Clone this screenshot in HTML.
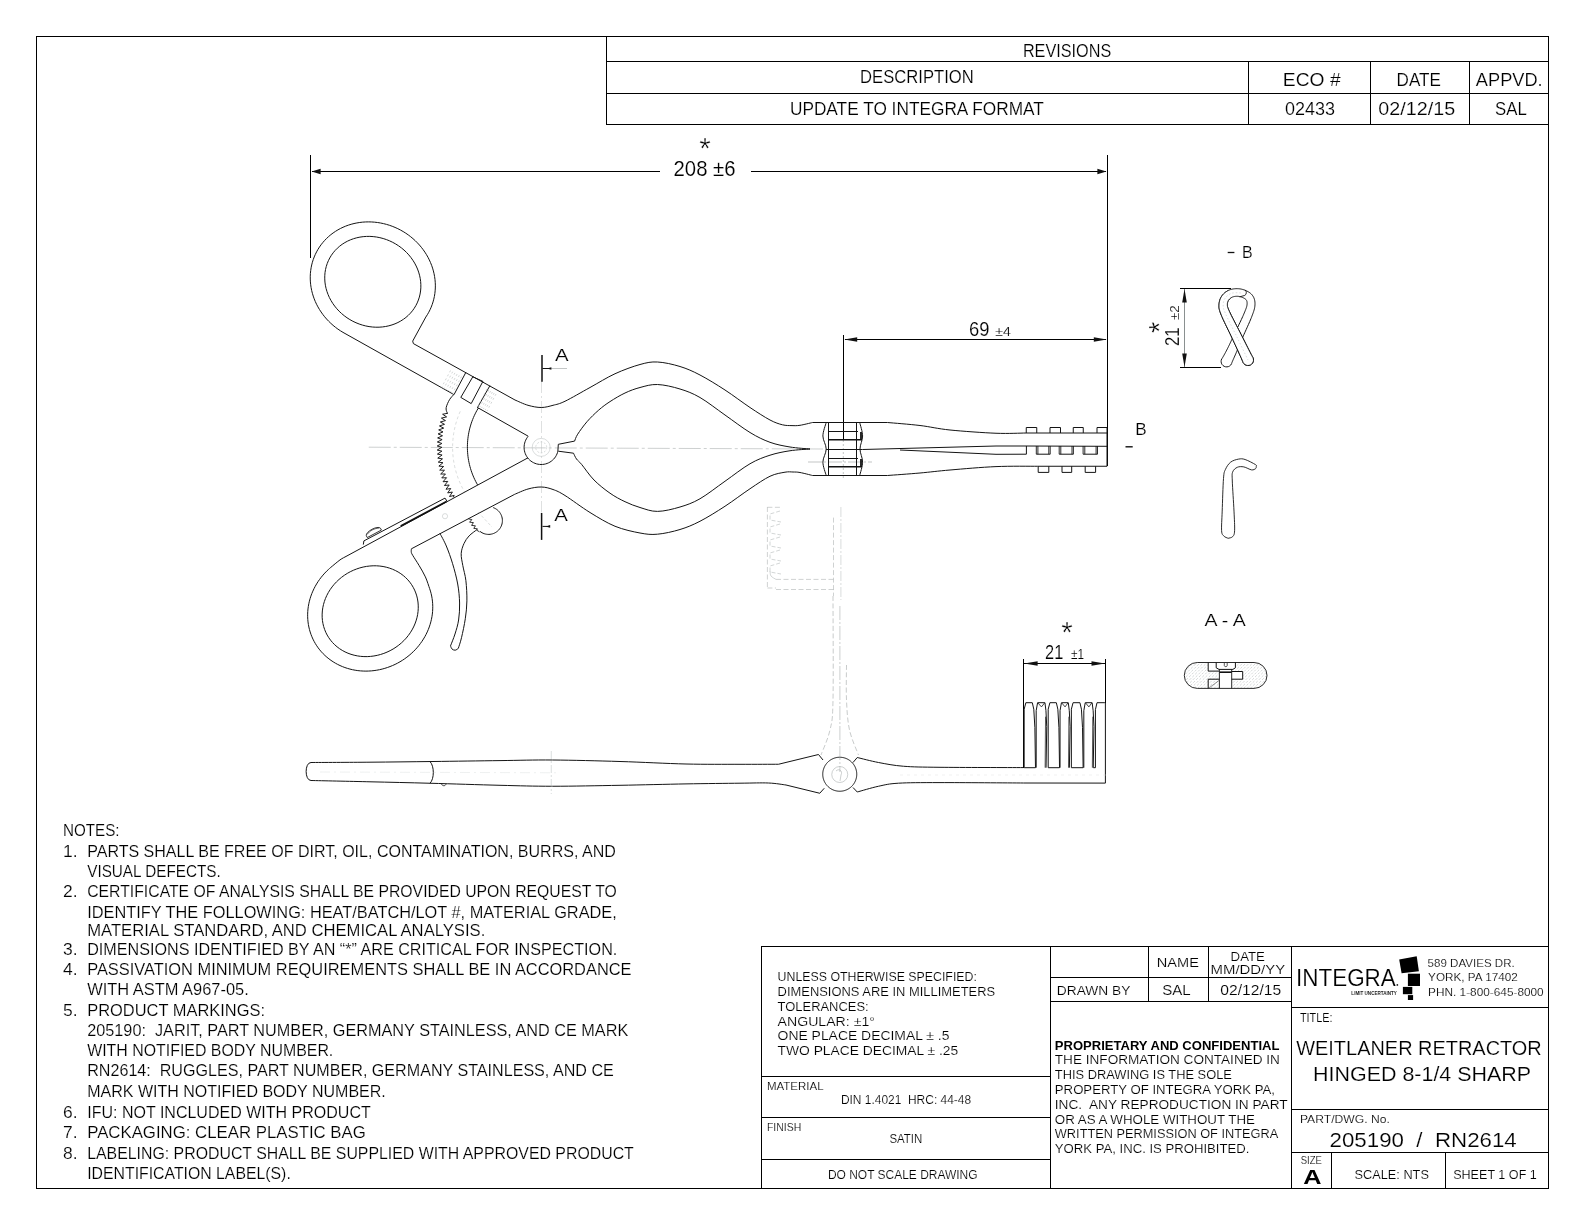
<!DOCTYPE html><html><head><meta charset="utf-8"><title>Drawing</title><style>html,body{margin:0;padding:0;background:#fff}svg{display:block;will-change:transform}text{font-family:"Liberation Sans",sans-serif}</style></head><body>
<svg width="1584" height="1224" viewBox="0 0 1584 1224">
<rect width="1584" height="1224" fill="#fff"/>
<rect x="36.5" y="36.5" width="1512" height="1152" fill="none" stroke="#000" stroke-width="1" shape-rendering="crispEdges"/>
<line x1="606.5" y1="36.5" x2="606.5" y2="125" stroke="#000" stroke-width="1" shape-rendering="crispEdges"/>
<line x1="606" y1="124.5" x2="1548.5" y2="124.5" stroke="#000" stroke-width="1" shape-rendering="crispEdges"/>
<line x1="606.5" y1="61.5" x2="1548.5" y2="61.5" stroke="#000" stroke-width="1" shape-rendering="crispEdges"/>
<line x1="606.5" y1="93.5" x2="1548.5" y2="93.5" stroke="#000" stroke-width="1" shape-rendering="crispEdges"/>
<line x1="1248.5" y1="61.5" x2="1248.5" y2="124.5" stroke="#000" stroke-width="1" shape-rendering="crispEdges"/>
<line x1="1370.5" y1="61.5" x2="1370.5" y2="124.5" stroke="#000" stroke-width="1" shape-rendering="crispEdges"/>
<line x1="1469.5" y1="61.5" x2="1469.5" y2="124.5" stroke="#000" stroke-width="1" shape-rendering="crispEdges"/>
<text x="1022.9" y="57.4" font-size="18" textLength="88.4" lengthAdjust="spacingAndGlyphs" fill="#000" stroke="#fff" stroke-width="0.16" >REVISIONS</text>
<text x="860.11" y="83.3" font-size="17.8" textLength="113.58" lengthAdjust="spacingAndGlyphs" fill="#000" stroke="#fff" stroke-width="0.16" >DESCRIPTION</text>
<text x="789.92" y="115.4" font-size="17.5" textLength="253.95" lengthAdjust="spacingAndGlyphs" fill="#000" stroke="#fff" stroke-width="0.16" >UPDATE TO INTEGRA FORMAT</text>
<text x="1282.85" y="86.25" font-size="18" textLength="57.8" lengthAdjust="spacingAndGlyphs" fill="#000" stroke="#fff" stroke-width="0.16" >ECO #</text>
<text x="1396.6" y="86.25" font-size="18" textLength="44.3" lengthAdjust="spacingAndGlyphs" fill="#000" stroke="#fff" stroke-width="0.16" >DATE</text>
<text x="1475.85" y="86.25" font-size="18" textLength="66.8" lengthAdjust="spacingAndGlyphs" fill="#000" stroke="#fff" stroke-width="0.16" >APPVD.</text>
<text x="1285.12" y="115" font-size="17.5" textLength="50" lengthAdjust="spacingAndGlyphs" fill="#000" stroke="#fff" stroke-width="0.16" >02433</text>
<text x="1378.38" y="115" font-size="17.5" textLength="76.75" lengthAdjust="spacingAndGlyphs" fill="#000" stroke="#fff" stroke-width="0.16" >02/12/15</text>
<text x="1495.12" y="115" font-size="17.5" textLength="31.75" lengthAdjust="spacingAndGlyphs" fill="#000" stroke="#fff" stroke-width="0.16" >SAL</text>
<line x1="761" y1="946.5" x2="1548.5" y2="946.5" stroke="#000" stroke-width="1" shape-rendering="crispEdges"/>
<line x1="761.5" y1="946.5" x2="761.5" y2="1188.5" stroke="#000" stroke-width="1" shape-rendering="crispEdges"/>
<line x1="1050.5" y1="946.5" x2="1050.5" y2="1188.5" stroke="#000" stroke-width="1" shape-rendering="crispEdges"/>
<line x1="1291.5" y1="946.5" x2="1291.5" y2="1188.5" stroke="#000" stroke-width="1" shape-rendering="crispEdges"/>
<line x1="761.5" y1="1076.5" x2="1050.5" y2="1076.5" stroke="#000" stroke-width="1" shape-rendering="crispEdges"/>
<line x1="761.5" y1="1117.5" x2="1050.5" y2="1117.5" stroke="#000" stroke-width="1" shape-rendering="crispEdges"/>
<line x1="761.5" y1="1159.5" x2="1050.5" y2="1159.5" stroke="#000" stroke-width="1" shape-rendering="crispEdges"/>
<line x1="1050.5" y1="977.5" x2="1291.5" y2="977.5" stroke="#000" stroke-width="1" shape-rendering="crispEdges"/>
<line x1="1050.5" y1="1001.5" x2="1291.5" y2="1001.5" stroke="#000" stroke-width="1" shape-rendering="crispEdges"/>
<line x1="1148.5" y1="946.5" x2="1148.5" y2="1001.5" stroke="#000" stroke-width="1" shape-rendering="crispEdges"/>
<line x1="1208.5" y1="946.5" x2="1208.5" y2="1001.5" stroke="#000" stroke-width="1" shape-rendering="crispEdges"/>
<line x1="1291.5" y1="1007.5" x2="1548.5" y2="1007.5" stroke="#000" stroke-width="1" shape-rendering="crispEdges"/>
<line x1="1291.5" y1="1109.5" x2="1548.5" y2="1109.5" stroke="#000" stroke-width="1" shape-rendering="crispEdges"/>
<line x1="1291.5" y1="1152.5" x2="1548.5" y2="1152.5" stroke="#000" stroke-width="1" shape-rendering="crispEdges"/>
<line x1="1331.5" y1="1152.5" x2="1331.5" y2="1188.5" stroke="#000" stroke-width="1" shape-rendering="crispEdges"/>
<line x1="1445.5" y1="1152.5" x2="1445.5" y2="1188.5" stroke="#000" stroke-width="1" shape-rendering="crispEdges"/>
<text x="777.58" y="981" font-size="13.4" textLength="199.34" lengthAdjust="spacingAndGlyphs" fill="#000" stroke="#fff" stroke-width="0.16" >UNLESS OTHERWISE SPECIFIED:</text>
<text x="777.58" y="995.75" font-size="13.4" textLength="217.59" lengthAdjust="spacingAndGlyphs" fill="#000" stroke="#fff" stroke-width="0.16" >DIMENSIONS ARE IN MILLIMETERS</text>
<text x="777.58" y="1010.75" font-size="13.4" textLength="91.09" lengthAdjust="spacingAndGlyphs" fill="#000" stroke="#fff" stroke-width="0.16" >TOLERANCES:</text>
<text x="777.58" y="1025.75" font-size="13.4" textLength="97.34" lengthAdjust="spacingAndGlyphs" fill="#000" stroke="#fff" stroke-width="0.16" >ANGULAR: ±1°</text>
<text x="777.58" y="1040" font-size="13.4" textLength="171.84" lengthAdjust="spacingAndGlyphs" fill="#000" stroke="#fff" stroke-width="0.16" >ONE PLACE DECIMAL ± .5</text>
<text x="777.58" y="1054.75" font-size="13.4" textLength="180.59" lengthAdjust="spacingAndGlyphs" fill="#000" stroke="#fff" stroke-width="0.16" >TWO PLACE DECIMAL ± .25</text>
<text x="766.93" y="1090" font-size="11.3" textLength="56.63" lengthAdjust="spacingAndGlyphs" fill="#000" stroke="#fff" stroke-width="0.16" >MATERIAL</text>
<text x="840.9" y="1104.25" font-size="12" textLength="130.2" lengthAdjust="spacingAndGlyphs" fill="#000" stroke="#fff" stroke-width="0.16" xml:space="preserve">DIN 1.4021  HRC: 44-48</text>
<text x="766.93" y="1130.75" font-size="11.3" textLength="34.38" lengthAdjust="spacingAndGlyphs" fill="#000" stroke="#fff" stroke-width="0.16" >FINISH</text>
<text x="889.4" y="1143" font-size="12" textLength="32.95" lengthAdjust="spacingAndGlyphs" fill="#000" stroke="#fff" stroke-width="0.16" >SATIN</text>
<text x="827.9" y="1179" font-size="12" textLength="149.7" lengthAdjust="spacingAndGlyphs" fill="#000" stroke="#fff" stroke-width="0.16" >DO NOT SCALE DRAWING</text>
<text x="1056.83" y="994.75" font-size="13.4" textLength="73.59" lengthAdjust="spacingAndGlyphs" fill="#000" stroke="#fff" stroke-width="0.16" >DRAWN BY</text>
<text x="1156.83" y="967" font-size="13.4" textLength="42.09" lengthAdjust="spacingAndGlyphs" fill="#000" stroke="#fff" stroke-width="0.16" >NAME</text>
<text x="1230.58" y="960.75" font-size="13.4" textLength="34.34" lengthAdjust="spacingAndGlyphs" fill="#000" stroke="#fff" stroke-width="0.16" >DATE</text>
<text x="1210.58" y="973.75" font-size="13.4" textLength="74.59" lengthAdjust="spacingAndGlyphs" fill="#000" stroke="#fff" stroke-width="0.16" >MM/DD/YY</text>
<text x="1162.28" y="994.75" font-size="14.4" textLength="28.44" lengthAdjust="spacingAndGlyphs" fill="#000" stroke="#fff" stroke-width="0.16" >SAL</text>
<text x="1220.28" y="994.75" font-size="14.4" textLength="60.94" lengthAdjust="spacingAndGlyphs" fill="#000" stroke="#fff" stroke-width="0.16" >02/12/15</text>
<text x="1054.85" y="1049.5" font-size="13" font-weight="bold" textLength="224.55" lengthAdjust="spacingAndGlyphs" fill="#000" >PROPRIETARY AND CONFIDENTIAL</text>
<text x="1054.83" y="1063.75" font-size="13.4" textLength="225.09" lengthAdjust="spacingAndGlyphs" fill="#000" stroke="#fff" stroke-width="0.16" xml:space="preserve">THE INFORMATION CONTAINED IN</text>
<text x="1054.83" y="1079.25" font-size="13.4" textLength="177.09" lengthAdjust="spacingAndGlyphs" fill="#000" stroke="#fff" stroke-width="0.16" xml:space="preserve">THIS DRAWING IS THE SOLE</text>
<text x="1054.83" y="1093.75" font-size="13.4" textLength="220.09" lengthAdjust="spacingAndGlyphs" fill="#000" stroke="#fff" stroke-width="0.16" xml:space="preserve">PROPERTY OF INTEGRA YORK PA,</text>
<text x="1054.83" y="1109" font-size="13.4" textLength="232.84" lengthAdjust="spacingAndGlyphs" fill="#000" stroke="#fff" stroke-width="0.16" xml:space="preserve">INC.  ANY REPRODUCTION IN PART</text>
<text x="1054.83" y="1124" font-size="13.4" textLength="200.09" lengthAdjust="spacingAndGlyphs" fill="#000" stroke="#fff" stroke-width="0.16" xml:space="preserve">OR AS A WHOLE WITHOUT THE</text>
<text x="1054.83" y="1138" font-size="13.4" textLength="223.34" lengthAdjust="spacingAndGlyphs" fill="#000" stroke="#fff" stroke-width="0.16" xml:space="preserve">WRITTEN PERMISSION OF INTEGRA</text>
<text x="1054.83" y="1152.75" font-size="13.4" textLength="194.59" lengthAdjust="spacingAndGlyphs" fill="#000" stroke="#fff" stroke-width="0.16" xml:space="preserve">YORK PA, INC. IS PROHIBITED.</text>
<text x="1296.03" y="985.7" font-size="23.4" textLength="99.74" lengthAdjust="spacingAndGlyphs" fill="#000" stroke="#fff" stroke-width="0.16" >INTEGRA</text>
<rect x="1396.6" y="984.2" width="1.5" height="1.5" fill="#000"/>
<polygon points="1399.2,959.4 1416.7,956.2 1418.9,971.3 1401.6,973.2" fill="#000"/>
<rect x="1407.9" y="973.7" width="12.1" height="12.3" fill="#000"/>
<rect x="1402.9" y="986.9" width="9.4" height="7.3" fill="#000"/>
<rect x="1407.9" y="995.1" width="5.2" height="4.9" fill="#000"/>
<text x="1351.37" y="994.7" font-size="4.6" font-weight="bold" textLength="45.56" lengthAdjust="spacingAndGlyphs" fill="#222" >LIMIT UNCERTAINTY</text>
<text x="1427.61" y="966.7" font-size="11.8" textLength="87.08" lengthAdjust="spacingAndGlyphs" fill="#000" stroke="#fff" stroke-width="0.16" >589 DAVIES DR.</text>
<text x="1428.11" y="981.1" font-size="11.8" textLength="89.78" lengthAdjust="spacingAndGlyphs" fill="#000" stroke="#fff" stroke-width="0.16" >YORK, PA 17402</text>
<text x="1428.11" y="995.6" font-size="11.8" textLength="115.58" lengthAdjust="spacingAndGlyphs" fill="#000" stroke="#fff" stroke-width="0.16" >PHN. 1-800-645-8000</text>
<text x="1299.88" y="1021.5" font-size="12.3" textLength="32.73" lengthAdjust="spacingAndGlyphs" fill="#000" stroke="#fff" stroke-width="0.16" >TITLE:</text>
<text x="1296.22" y="1054.9" font-size="19.6" textLength="245.56" lengthAdjust="spacingAndGlyphs" fill="#000" stroke="#fff" stroke-width="0.16" >WEITLANER RETRACTOR</text>
<text x="1313.02" y="1080.6" font-size="19.6" textLength="218.16" lengthAdjust="spacingAndGlyphs" fill="#000" stroke="#fff" stroke-width="0.16" >HINGED 8-1/4 SHARP</text>
<text x="1299.91" y="1123" font-size="11.7" textLength="89.92" lengthAdjust="spacingAndGlyphs" fill="#000" stroke="#fff" stroke-width="0.16" >PART/DWG. No.</text>
<text x="1329.52" y="1147" font-size="19.6" textLength="187.26" lengthAdjust="spacingAndGlyphs" fill="#000" stroke="#fff" stroke-width="0.16" xml:space="preserve">205190  /  RN2614</text>
<text x="1300.7" y="1163.75" font-size="11" textLength="21.1" lengthAdjust="spacingAndGlyphs" fill="#000" stroke="#fff" stroke-width="0.16" >SIZE</text>
<text x="1303.25" y="1183.75" font-size="20" font-weight="bold" textLength="18.25" lengthAdjust="spacingAndGlyphs" fill="#000" >A</text>
<text x="1354.6" y="1178.75" font-size="13" textLength="74.3" lengthAdjust="spacingAndGlyphs" fill="#000" stroke="#fff" stroke-width="0.16" >SCALE: NTS</text>
<text x="1453.15" y="1178.9" font-size="13" textLength="83.7" lengthAdjust="spacingAndGlyphs" fill="#000" stroke="#fff" stroke-width="0.16" >SHEET 1 OF 1</text>
<text x="62.96" y="835.75" font-size="15.8" textLength="56.58" lengthAdjust="spacingAndGlyphs" fill="#000" stroke="#fff" stroke-width="0.16" >NOTES:</text>
<text x="62.96" y="856.75" font-size="15.8" textLength="14.58" lengthAdjust="spacingAndGlyphs" fill="#000" stroke="#fff" stroke-width="0.16" >1.</text>
<text x="87.21" y="856.75" font-size="15.8" textLength="528.58" lengthAdjust="spacingAndGlyphs" fill="#000" stroke="#fff" stroke-width="0.16" xml:space="preserve">PARTS SHALL BE FREE OF DIRT, OIL, CONTAMINATION, BURRS, AND</text>
<text x="87.21" y="877" font-size="15.8" textLength="133.58" lengthAdjust="spacingAndGlyphs" fill="#000" stroke="#fff" stroke-width="0.16" xml:space="preserve">VISUAL DEFECTS.</text>
<text x="62.96" y="896.75" font-size="15.8" textLength="14.58" lengthAdjust="spacingAndGlyphs" fill="#000" stroke="#fff" stroke-width="0.16" >2.</text>
<text x="87.21" y="896.75" font-size="15.8" textLength="529.58" lengthAdjust="spacingAndGlyphs" fill="#000" stroke="#fff" stroke-width="0.16" xml:space="preserve">CERTIFICATE OF ANALYSIS SHALL BE PROVIDED UPON REQUEST TO</text>
<text x="87.21" y="917.5" font-size="15.8" textLength="529.58" lengthAdjust="spacingAndGlyphs" fill="#000" stroke="#fff" stroke-width="0.16" xml:space="preserve">IDENTIFY THE FOLLOWING: HEAT/BATCH/LOT #, MATERIAL GRADE,</text>
<text x="87.21" y="935.75" font-size="15.8" textLength="398.08" lengthAdjust="spacingAndGlyphs" fill="#000" stroke="#fff" stroke-width="0.16" xml:space="preserve">MATERIAL STANDARD, AND CHEMICAL ANALYSIS.</text>
<text x="62.96" y="955" font-size="15.8" textLength="14.58" lengthAdjust="spacingAndGlyphs" fill="#000" stroke="#fff" stroke-width="0.16" >3.</text>
<text x="87.21" y="955" font-size="15.8" textLength="530.08" lengthAdjust="spacingAndGlyphs" fill="#000" stroke="#fff" stroke-width="0.16" xml:space="preserve">DIMENSIONS IDENTIFIED BY AN “*” ARE CRITICAL FOR INSPECTION.</text>
<text x="62.96" y="974.5" font-size="15.8" textLength="14.58" lengthAdjust="spacingAndGlyphs" fill="#000" stroke="#fff" stroke-width="0.16" >4.</text>
<text x="87.21" y="974.5" font-size="15.8" textLength="544.33" lengthAdjust="spacingAndGlyphs" fill="#000" stroke="#fff" stroke-width="0.16" xml:space="preserve">PASSIVATION MINIMUM REQUIREMENTS SHALL BE IN ACCORDANCE</text>
<text x="87.21" y="994.5" font-size="15.8" textLength="161.58" lengthAdjust="spacingAndGlyphs" fill="#000" stroke="#fff" stroke-width="0.16" xml:space="preserve">WITH ASTM A967-05.</text>
<text x="62.96" y="1015.5" font-size="15.8" textLength="14.58" lengthAdjust="spacingAndGlyphs" fill="#000" stroke="#fff" stroke-width="0.16" >5.</text>
<text x="87.21" y="1015.5" font-size="15.8" textLength="177.83" lengthAdjust="spacingAndGlyphs" fill="#000" stroke="#fff" stroke-width="0.16" xml:space="preserve">PRODUCT MARKINGS:</text>
<text x="87.21" y="1036" font-size="15.8" textLength="541.08" lengthAdjust="spacingAndGlyphs" fill="#000" stroke="#fff" stroke-width="0.16" xml:space="preserve">205190:  JARIT, PART NUMBER, GERMANY STAINLESS, AND CE MARK</text>
<text x="87.21" y="1056.25" font-size="15.8" textLength="246.08" lengthAdjust="spacingAndGlyphs" fill="#000" stroke="#fff" stroke-width="0.16" xml:space="preserve">WITH NOTIFIED BODY NUMBER.</text>
<text x="87.21" y="1076.25" font-size="15.8" textLength="526.58" lengthAdjust="spacingAndGlyphs" fill="#000" stroke="#fff" stroke-width="0.16" xml:space="preserve">RN2614:  RUGGLES, PART NUMBER, GERMANY STAINLESS, AND CE</text>
<text x="87.21" y="1096.5" font-size="15.8" textLength="298.58" lengthAdjust="spacingAndGlyphs" fill="#000" stroke="#fff" stroke-width="0.16" xml:space="preserve">MARK WITH NOTIFIED BODY NUMBER.</text>
<text x="62.96" y="1117.5" font-size="15.8" textLength="14.58" lengthAdjust="spacingAndGlyphs" fill="#000" stroke="#fff" stroke-width="0.16" >6.</text>
<text x="87.21" y="1117.5" font-size="15.8" textLength="283.58" lengthAdjust="spacingAndGlyphs" fill="#000" stroke="#fff" stroke-width="0.16" xml:space="preserve">IFU: NOT INCLUDED WITH PRODUCT</text>
<text x="62.96" y="1137.5" font-size="15.8" textLength="14.58" lengthAdjust="spacingAndGlyphs" fill="#000" stroke="#fff" stroke-width="0.16" >7.</text>
<text x="87.21" y="1137.5" font-size="15.8" textLength="278.58" lengthAdjust="spacingAndGlyphs" fill="#000" stroke="#fff" stroke-width="0.16" xml:space="preserve">PACKAGING: CLEAR PLASTIC BAG</text>
<text x="62.96" y="1158.5" font-size="15.8" textLength="14.58" lengthAdjust="spacingAndGlyphs" fill="#000" stroke="#fff" stroke-width="0.16" >8.</text>
<text x="87.21" y="1158.5" font-size="15.8" textLength="546.58" lengthAdjust="spacingAndGlyphs" fill="#000" stroke="#fff" stroke-width="0.16" xml:space="preserve">LABELING: PRODUCT SHALL BE SUPPLIED WITH APPROVED PRODUCT</text>
<text x="87.21" y="1178.75" font-size="15.8" textLength="203.58" lengthAdjust="spacingAndGlyphs" fill="#000" stroke="#fff" stroke-width="0.16" xml:space="preserve">IDENTIFICATION LABEL(S).</text>
<line x1="310.5" y1="155" x2="310.5" y2="257.5" stroke="#000" stroke-width="1" shape-rendering="crispEdges"/>
<line x1="1107.5" y1="155" x2="1107.5" y2="466.25" stroke="#000" stroke-width="1" shape-rendering="crispEdges"/>
<line x1="312" y1="171.5" x2="659.5" y2="171.5" stroke="#000" stroke-width="1" shape-rendering="crispEdges"/>
<line x1="751" y1="171.5" x2="1106" y2="171.5" stroke="#000" stroke-width="1" shape-rendering="crispEdges"/>
<polygon points="311.6,171.5 320.6,174.2 320.6,168.8" fill="#111"/>
<polygon points="1106.4,171.5 1097.4,168.8 1097.4,174.2" fill="#111"/>
<text x="673.54" y="176.1" font-size="21.2" textLength="62.02" lengthAdjust="spacingAndGlyphs" fill="#000" stroke="#fff" stroke-width="0.16" >208 ±6</text>
<text x="699.16" y="158.14" font-size="29.5" fill="#000" stroke="#fff" stroke-width="0.35">*</text>
<line x1="843.5" y1="335" x2="843.5" y2="440" stroke="#000" stroke-width="1" shape-rendering="crispEdges"/>
<line x1="843.3" y1="440" x2="843.3" y2="479" stroke="#9aa0a0" stroke-width="0.6" stroke-dasharray="2 2"/>
<line x1="845" y1="339.5" x2="1106" y2="339.5" stroke="#000" stroke-width="1" shape-rendering="crispEdges"/>
<polygon points="844.2,339.5 857.2,341.8 857.2,337.2" fill="#111"/>
<polygon points="1106.8,339.5 1093.8,337.2 1093.8,341.8" fill="#111"/>
<text x="968.92" y="336" font-size="19.5" textLength="20.45" lengthAdjust="spacingAndGlyphs" fill="#000" stroke="#fff" stroke-width="0.16" >69</text>
<text x="995.22" y="335.8" font-size="13.7" textLength="15.47" lengthAdjust="spacingAndGlyphs" fill="#000" stroke="#fff" stroke-width="0.16" >±4</text>
<line x1="368.75" y1="447.2" x2="823" y2="449" stroke="#9aa0a0" stroke-width="0.5" stroke-dasharray="22 3 3 3"/>
<line x1="541.5" y1="381" x2="541.5" y2="512.5" stroke="#b5baba" stroke-width="0.45" stroke-dasharray="12 3 2 3"/>
<line x1="808" y1="462" x2="872" y2="462" stroke="#9aa0a0" stroke-width="0.6" stroke-dasharray="14 2 2 2"/>
<path d="M415.83 305.65 L414.23 308.29 L412.43 310.8 L410.44 313.17 L408.26 315.38 L405.91 317.44 L403.4 319.31 L400.73 321.01 L397.94 322.51 L395.02 323.82 L391.99 324.92 L388.87 325.81 L385.67 326.49 L382.41 326.95 L379.1 327.19 L375.76 327.21 L372.4 327 L369.05 326.58 L365.72 325.94 L362.42 325.08 L359.17 324.01 L355.99 322.74 L352.89 321.27 L349.88 319.6 L346.99 317.75 L344.22 315.73 L341.6 313.54 L339.12 311.2 L336.81 308.71 L334.68 306.09 L332.73 303.35 L330.97 300.51 L329.42 297.58 L328.08 294.57 L326.96 291.5 L326.06 288.38 L325.39 285.23 L324.95 282.06 L324.75 278.89 L324.77 275.73 L325.03 272.61 L325.53 269.53 L326.25 266.51 L327.21 263.56 L328.38 260.7 L329.77 257.95 L331.37 255.31 L333.17 252.8 L335.16 250.43 L337.34 248.22 L339.69 246.16 L342.2 244.29 L344.87 242.59 L347.66 241.09 L350.58 239.78 L353.61 238.68 L356.73 237.79 L359.93 237.11 L363.19 236.65 L366.5 236.41 L369.84 236.39 L373.2 236.6 L376.55 237.02 L379.88 237.66 L383.18 238.52 L386.43 239.59 L389.61 240.86 L392.71 242.33 L395.72 244 L398.61 245.85 L401.38 247.87 L404 250.06 L406.48 252.4 L408.79 254.89 L410.92 257.51 L412.87 260.25 L414.63 263.09 L416.18 266.02 L417.52 269.03 L418.64 272.1 L419.54 275.22 L420.21 278.37 L420.65 281.54 L420.85 284.71 L420.83 287.87 L420.57 290.99 L420.07 294.07 L419.35 297.09 L418.39 300.04 L417.22 302.9 L415.83 305.65 Z" fill="none" stroke="#141414" stroke-width="1.0" />
<path d="M425.82 317.04 L427.35 314.69 L428.75 312.26 L430.02 309.76 L431.16 307.2 L432.17 304.58 L433.04 301.91 L433.78 299.19 L434.38 296.44 L434.83 293.65 L435.15 290.83 L435.32 287.99 L435.36 285.14 L435.24 282.28 L434.99 279.42 L434.59 276.57 L434.06 273.72 L433.38 270.9 L432.57 268.1 L431.62 265.33 L430.53 262.6 L429.31 259.91 L427.97 257.27 L426.5 254.69 L424.9 252.17 L423.19 249.72 L421.37 247.34 L419.43 245.04 L417.38 242.83 L415.24 240.7 L412.99 238.66 L410.66 236.73 L408.24 234.9 L405.74 233.17 L403.16 231.56 L400.52 230.05 L397.81 228.67 L395.04 227.41 L392.23 226.27 L389.36 225.26 L386.47 224.38 L383.54 223.63 L380.58 223.01 L377.61 222.53 L374.63 222.18 L371.64 221.96 L368.66 221.89 L365.68 221.95 L362.72 222.14 L359.79 222.48 L356.88 222.94 L354.01 223.54 L351.18 224.28 L348.41 225.14 L345.68 226.14 L343.02 227.26 L340.43 228.51 L337.91 229.87 L335.47 231.36 L333.12 232.96 L330.86 234.67 L328.69 236.49 L326.62 238.42 L324.66 240.44 L322.81 242.55 L321.07 244.76 L319.45 247.05 L317.95 249.42 L316.58 251.86 L315.33 254.37 L314.22 256.95 L313.23 259.58 L312.39 262.26 L311.68 264.98 L311.11 267.75 L310.69 270.54 L310.4 273.37 L310.26 276.21 L310.26 279.06 L310.4 281.92 L310.68 284.78 L311.11 287.63 L311.67 290.47 L312.38 293.29 L313.22 296.09 L314.2 298.85 L315.31 301.57 L316.56 304.25 L317.93 306.87 L319.43 309.44 L321.05 311.95 L322.78 314.39 L324.63 316.75 L326.59 319.03 L328.66 321.23 L330.83 323.34 L333.09 325.35 L335.44 327.27 L337.88 329.08 L340.4 330.78 L342.99 332.37 M425.82 317.04 L412.7 341.1 L413.4 343.6 L515 400 C517.17 400.88 523.62 404.05 528 405.3 C532.38 406.55 537.08 407.5 541.25 407.5 C545.42 407.5 549.04 406.34 553 405.3 C556.96 404.26 558.83 404.22 565 401.25 C571.17 398.28 581.67 392.08 590 387.5 C598.33 382.92 606.67 377.58 615 373.75 C623.33 369.92 632.92 366.46 640 364.5 C647.08 362.54 650.83 361.67 657.5 362 C664.17 362.33 672.92 364.33 680 366.5 C687.08 368.67 692.5 371.08 700 375 C707.5 378.92 716.67 384.58 725 390 C733.33 395.42 742.5 402.5 750 407.5 C757.5 412.5 764.58 417.12 770 420 C775.42 422.88 778.83 423.87 782.5 424.8 C786.17 425.73 789.08 425.52 792 425.6 C794.92 425.68 796.58 425.82 800 425.3 C803.42 424.78 810.42 422.97 812.5 422.5 L887.5 422.5 C892.92 423 909.58 424.25 920 425.5 C930.42 426.75 937.33 428.71 950 430 C962.67 431.29 983.33 432.75 996 433.25 C1008.67 433.75 1021 433.04 1026 433 L1107 433" fill="none" stroke="#141414" stroke-width="1.0" />
<line x1="342.99" y1="332.37" x2="453.6" y2="394.4" stroke="#141414" stroke-width="1.0" />
<line x1="477.5" y1="407.5" x2="528" y2="436.1" stroke="#141414" stroke-width="1.0" />
<line x1="465.8" y1="372.5" x2="454.2" y2="394.3" stroke="#141414" stroke-width="1.0" />
<path d="M472.8 376.8 L482.9 381.4 L471.2 403.6 L460.8 397.4 Z" fill="none" stroke="#141414" stroke-width="1.0" />
<line x1="489.9" y1="385.7" x2="477.5" y2="407.5" stroke="#141414" stroke-width="1.0" />
<line x1="450.5" y1="370.5" x2="441.5" y2="387.5" stroke="#b5baba" stroke-width="0.6" stroke-dasharray="2 2.5"/>
<line x1="452.7" y1="371.7" x2="443.7" y2="388.7" stroke="#b5baba" stroke-width="0.6" stroke-dasharray="2 2.5"/>
<line x1="454.9" y1="372.9" x2="445.9" y2="389.9" stroke="#b5baba" stroke-width="0.6" stroke-dasharray="2 2.5"/>
<line x1="457.1" y1="374.1" x2="448.1" y2="391.1" stroke="#b5baba" stroke-width="0.6" stroke-dasharray="2 2.5"/>
<line x1="459.3" y1="375.3" x2="450.3" y2="392.3" stroke="#b5baba" stroke-width="0.6" stroke-dasharray="2 2.5"/>
<line x1="461.5" y1="376.5" x2="452.5" y2="393.5" stroke="#b5baba" stroke-width="0.6" stroke-dasharray="2 2.5"/>
<line x1="487" y1="389" x2="478" y2="406" stroke="#b5baba" stroke-width="0.6" stroke-dasharray="2 2.5"/>
<line x1="488.8" y1="390" x2="479.8" y2="407" stroke="#b5baba" stroke-width="0.6" stroke-dasharray="2 2.5"/>
<line x1="490.6" y1="391" x2="481.6" y2="408" stroke="#b5baba" stroke-width="0.6" stroke-dasharray="2 2.5"/>
<line x1="492.4" y1="392" x2="483.4" y2="409" stroke="#b5baba" stroke-width="0.6" stroke-dasharray="2 2.5"/>
<line x1="494.2" y1="393" x2="485.2" y2="410" stroke="#b5baba" stroke-width="0.6" stroke-dasharray="2 2.5"/>
<line x1="496" y1="394" x2="487" y2="411" stroke="#b5baba" stroke-width="0.6" stroke-dasharray="2 2.5"/>
<path d="M447.85 413.24 L442.62 414.25 L446.6 416.89 L441.41 418.11 L445.48 420.59 L440.35 422.01 L444.51 424.33 L439.44 425.95 L443.69 428.11 L438.68 429.92 L443.01 431.91 L438.08 433.92 L442.49 435.74 L437.63 437.93 L442.11 439.59 L437.34 441.97 L441.88 443.44 L437.21 446.01 L441.8 447.31 L437.23 450.05 L441.87 451.17 L437.42 454.09 L442.09 455.03 L437.75 458.12 L442.46 458.87 L438.25 462.13 L442.98 462.7 L438.9 466.12 L443.65 466.51 L439.7 470.08 L444.47 470.28 L440.66 474.01 L445.43 474.02 L441.77 477.9 L446.54 477.73 L443.03 481.74 L447.79 481.38 L444.44 485.53 L449.18 484.99 L445.99 489.26 L450.71 488.53 L447.69 492.93 L452.38 492.02 L449.53 496.52 L454.18 495.44" fill="none" stroke="#111" stroke-width="0.95" stroke-linejoin="round"/>
<path d="M454.2 394.1 C453.42 395.03 450.83 397.47 449.5 399.7 C448.17 401.93 446.63 405.4 446.2 407.5 C445.77 409.6 446.62 411.34 446.9 412.3 C447.18 413.26 447.7 413.08 447.85 413.24" fill="none" stroke="#141414" stroke-width="1.0" />
<line x1="454.18" y1="495.44" x2="453.3" y2="497.3" stroke="#141414" stroke-width="1.0" />
<path d="M477.98 408.63 L476.98 410.36 L476.03 412.12 L475.12 413.9 L474.26 415.71 L473.45 417.54 L472.69 419.39 L471.98 421.26 L471.32 423.14 L470.71 425.05 L470.15 426.97 L469.64 428.9 L469.18 430.85 L468.77 432.8 L468.42 434.77 L468.12 436.75 L467.87 438.73 L467.67 440.72 L467.53 442.72 L467.44 444.72 L467.4 446.72 L467.42 448.71 L467.49 450.71 L467.61 452.71 L467.79 454.7 L468.01 456.69 L468.3 458.67 L468.63 460.64 L469.02 462.6 L469.45 464.55 L469.94 466.49 L470.48 468.42 L471.08 470.33 L471.72 472.22 L472.41 474.1 L473.16 475.95 L473.95 477.79 L474.79 479.6 L475.68 481.39 L476.61 483.16 L477.59 484.9" fill="none" stroke="#141414" stroke-width="1.0" />
<line x1="477.5" y1="407.5" x2="478.6" y2="409" stroke="#141414" stroke-width="1.0" />
<path d="M460.26 411.36 L459.43 413.28 L458.65 415.22 L457.92 417.17 L457.23 419.14 L456.59 421.13 L455.99 423.13 L455.44 425.14 L454.94 427.17 L454.49 429.21 L454.08 431.25 L453.73 433.31 L453.42 435.38 L453.16 437.45 L452.95 439.52 L452.79 441.61 L452.68 443.69 L452.61 445.78 L452.6 447.86 L452.64 449.95 L452.72 452.04 L452.86 454.12 L453.04 456.2 L453.27 458.27 L453.55 460.34 L453.88 462.4 L454.26 464.46 L454.68 466.5 L455.16 468.53 L455.68 470.56 L456.25 472.56 L456.87 474.56 L457.53 476.54 L458.24 478.5 L458.99 480.45 L459.8 482.37 L460.64 484.28 L461.53 486.17 L462.47 488.04 L463.45 489.88 L464.47 491.7" fill="none" stroke="#b5baba" stroke-width="0.5" stroke-dasharray="3 2.5"/>
<path d="M528.21 436.28 L527.26 437.5 L526.42 438.81 L525.7 440.18 L525.11 441.62 L524.65 443.1 L524.33 444.62 L524.15 446.16 L524.1 447.71 L524.2 449.26 L524.44 450.79 L524.82 452.3 L525.33 453.76 L525.97 455.18 L526.74 456.52 L527.62 457.8 L528.62 458.99 L529.72 460.08 L530.92 461.07 L532.2 461.94 L533.56 462.7 L534.98 463.33 L536.44 463.83 L537.95 464.19 L539.49 464.41 L541.04 464.5 L542.59 464.44 L544.13 464.25 L545.64 463.91 L547.12 463.44 L548.55 462.84 L549.92 462.11 L551.22 461.26 L552.43 460.29 L553.56 459.22 L554.58 458.05 L555.49 456.8 L556.28 455.46 L556.95 454.06 L557.49 452.61 L557.89 451.11 L558.3 444.3" fill="none" stroke="#141414" stroke-width="1.0" />
<circle cx="541.2" cy="447.4" r="9" fill="none" stroke="#b5baba" stroke-width="0.5"/>
<circle cx="541.2" cy="447.4" r="5.5" fill="none" stroke="#b5baba" stroke-width="0.5" stroke-dasharray="2 1.5"/>
<path d="M558.3 444.3 L574.6 441.1 C575.12 439.95 575.63 437.43 577.7 434.2 C579.77 430.97 583.5 425.72 587 421.7 C590.5 417.68 594.87 413.45 598.7 410.1 C602.53 406.75 605.62 404.45 610 401.6 C614.38 398.75 620 395.35 625 393 C630 390.65 634.58 388.92 640 387.5 C645.42 386.08 650.83 384.25 657.5 384.5 C664.17 384.75 672.92 386.83 680 389 C687.08 391.17 692.5 393.17 700 397.5 C707.5 401.83 716.67 409.17 725 415 C733.33 420.83 742.5 427.95 750 432.5 C757.5 437.05 763.33 439.88 770 442.3 C776.67 444.72 783.33 445.88 790 447 C796.67 448.12 806.67 448.67 810 449" fill="none" stroke="#141414" stroke-width="1.0" />
<path d="M558.3 451.2 L573.5 453.2 C574 454.17 575.15 457.13 576.5 459 C577.85 460.87 578.68 460.9 581.6 464.4 C584.52 467.9 589.27 475.2 594 480 C598.73 484.8 604.83 489.58 610 493.2 C615.17 496.82 620 499.32 625 501.7 C630 504.08 634.58 505.88 640 507.5 C645.42 509.12 650.83 511.48 657.5 511.4 C664.17 511.32 672.92 509.11 680 507 C687.08 504.89 692.5 503.04 700 498.75 C707.5 494.46 716.67 487.08 725 481.25 C733.33 475.42 742.5 468.09 750 463.75 C757.5 459.41 763.33 457.37 770 455.2 C776.67 453.03 783.33 451.78 790 450.75 C796.67 449.72 806.67 449.29 810 449" fill="none" stroke="#141414" stroke-width="1.0" />
<path d="M413.23 587.35 L414.62 590.1 L415.79 592.96 L416.75 595.91 L417.47 598.93 L417.97 602.01 L418.23 605.13 L418.25 608.29 L418.05 611.46 L417.61 614.63 L416.94 617.78 L416.04 620.9 L414.92 623.97 L413.58 626.98 L412.03 629.91 L410.27 632.75 L408.32 635.49 L406.19 638.11 L403.88 640.6 L401.4 642.94 L398.78 645.13 L396.01 647.15 L393.12 649 L390.11 650.67 L387.01 652.14 L383.83 653.41 L380.58 654.48 L377.28 655.34 L373.95 655.98 L370.6 656.4 L367.24 656.61 L363.9 656.59 L360.59 656.35 L357.33 655.89 L354.13 655.21 L351.01 654.32 L347.98 653.22 L345.06 651.91 L342.27 650.41 L339.6 648.71 L337.09 646.84 L334.74 644.78 L332.56 642.57 L330.57 640.2 L328.77 637.69 L327.17 635.05 L325.78 632.3 L324.61 629.44 L323.65 626.49 L322.93 623.47 L322.43 620.39 L322.17 617.27 L322.15 614.11 L322.35 610.94 L322.79 607.77 L323.46 604.62 L324.36 601.5 L325.48 598.43 L326.82 595.42 L328.37 592.49 L330.13 589.65 L332.08 586.91 L334.21 584.29 L336.52 581.8 L339 579.46 L341.62 577.27 L344.39 575.25 L347.28 573.4 L350.29 571.73 L353.39 570.26 L356.57 568.99 L359.82 567.92 L363.12 567.06 L366.45 566.42 L369.8 566 L373.16 565.79 L376.5 565.81 L379.81 566.05 L383.07 566.51 L386.27 567.19 L389.39 568.08 L392.42 569.18 L395.34 570.49 L398.13 571.99 L400.8 573.69 L403.31 575.56 L405.66 577.62 L407.84 579.83 L409.83 582.2 L411.63 584.71 L413.23 587.35 Z" fill="none" stroke="#141414" stroke-width="1.0" />
<path d="M528 457.8 L346 556.45 C345 557.03 342.54 558.07 340 559.9 C337.46 561.73 332.66 565.85 330.78 567.4 C328.9 568.96 329.05 568.92 328.71 569.22 L328.71 569.22 L326.71 571.12 L324.8 573.09 L322.97 575.14 L321.23 577.25 L319.58 579.43 L318.03 581.67 L316.58 583.96 L315.23 586.3 L313.99 588.7 L312.85 591.13 L311.81 593.6 L310.89 596.11 L310.08 598.64 L309.39 601.2 L308.81 603.78 L308.34 606.37 L307.99 608.97 L307.76 611.57 L307.65 614.18 L307.66 616.77 L307.78 619.36 L308.02 621.93 L308.38 624.49 L308.86 627.01 L309.45 629.51 L310.16 631.97 L310.98 634.39 L311.91 636.77 L312.95 639.1 L314.1 641.38 L315.36 643.6 L316.72 645.76 L318.18 647.86 L319.74 649.88 L321.4 651.83 L323.15 653.71 L324.98 655.5 L326.9 657.21 L328.91 658.84 L330.99 660.37 L333.15 661.81 L335.37 663.16 L337.66 664.41 L340.02 665.55 L342.43 666.6 L344.89 667.54 L347.4 668.37 L349.95 669.09 L352.54 669.71 L355.17 670.21 L357.82 670.61 L360.5 670.89 L363.2 671.06 L365.9 671.11 L368.62 671.05 L371.34 670.88 L374.06 670.6 L376.77 670.2 L379.47 669.7 L382.15 669.08 L384.8 668.35 L387.43 667.51 L390.03 666.57 L392.59 665.52 L395.11 664.38 L397.58 663.13 L400 661.78 L402.36 660.33 L404.66 658.8 L406.9 657.17 L409.07 655.46 L411.16 653.66 L413.18 651.78 L415.11 649.83 L416.96 647.8 L418.73 645.71 L420.4 643.54 L421.97 641.32 L423.45 639.04 L424.83 636.71 L426.1 634.33 L427.27 631.91 L428.33 629.44 L429.28 626.95 L430.12 624.42 L430.84 621.87 L431.45 619.29 L431.95 616.71 L432.33 614.11 L432.59 611.5 L432.73 608.9 L432.76 606.3 L432.66 603.71 L432.45 601.13 L432.12 598.58 L431.68 596.04 L431.11 593.54 L430.44 591.07 L429.65 588.63 C428.94 586.68 427.16 580.76 425.4 576.9 C423.64 573.04 421.22 569.1 419.1 565.5 C416.98 561.9 414 557.52 412.7 555.3 C411.4 553.08 411.52 553.28 411.3 552.2 C411.08 551.12 411.38 549.37 411.4 548.8 L514.7 494.3 C516.92 493.42 523.58 490.22 528 489 C532.42 487.78 537.08 486.92 541.25 487 C545.42 487.08 549.04 488.08 553 489.5 C556.96 490.92 558.83 491.67 565 495.5 C571.17 499.33 581.67 507.38 590 512.5 C598.33 517.62 606.67 522.83 615 526.25 C623.33 529.67 632.92 531.67 640 533 C647.08 534.33 650.83 534.78 657.5 534.2 C664.17 533.62 672.92 531.66 680 529.5 C687.08 527.34 692.5 525.12 700 521.25 C707.5 517.38 716.67 511.67 725 506.25 C733.33 500.83 742.5 493.75 750 488.75 C757.5 483.75 764.17 479.01 770 476.25 C775.83 473.49 781.17 472.91 785 472.2 C788.83 471.49 790.5 471.95 793 472 C795.5 472.05 796.75 471.92 800 472.5 C803.25 473.08 810.42 475 812.5 475.5 L887.5 475.5 C892.92 475.08 909.58 473.92 920 473 C930.42 472.08 937.33 471.07 950 470 C962.67 468.93 981.42 467.23 996 466.6 C1010.58 465.98 1030.58 466.31 1037.5 466.25 L1107 466.25" fill="none" stroke="#141414" stroke-width="1.0" />
<path d="M363.3 544.6 L363.9 540.9 L445 498.1 L446.9 501" fill="none" stroke="#141414" stroke-width="1.0" />
<line x1="400.7" y1="525.9" x2="446.5" y2="501.6" stroke="#111" stroke-width="1.7" />
<g transform="translate(373.6,532.4) rotate(-28)"><path d="M-8 1.6 L-8 -0.5 C-7 -4.5 7 -4.5 8 -0.5 L8 1.6 Z" fill="#fff" stroke="#1c1c1c" stroke-width="0.8"/><path d="M-6.5 -1.2 C-3 -3.3 3 -3.3 6.5 -1.2" fill="none" stroke="#1c1c1c" stroke-width="0.6"/></g>
<circle cx="445" cy="516.2" r="2.6" fill="none" stroke="#b5baba" stroke-width="0.5"/>
<path d="M439.9 533.3 C440.97 535.42 444.18 540.93 446.3 546 C448.42 551.07 450.7 557.37 452.6 563.7 C454.5 570.03 456.53 577.45 457.7 584 C458.87 590.55 459.45 597 459.6 603 C459.75 609 459.37 614.83 458.6 620 C457.83 625.17 456.35 629.68 455 634 C453.65 638.32 451.25 643.92 450.5 645.9 C450.75 646.42 451.22 648.28 452 649 C452.78 649.72 454.15 650.3 455.2 650.2 C456.25 650.1 457.78 648.7 458.3 648.4 C458.83 646.62 460.33 642.65 461.5 637.7 C462.67 632.75 464.4 624.83 465.3 618.7 C466.2 612.57 466.8 607.23 466.9 600.9 C467 594.57 466.58 586.6 465.9 580.7 C465.22 574.8 463.58 570.02 462.8 565.5 C462.02 560.98 461 557.27 461.2 553.6 C461.4 549.93 462.68 546.45 464 543.5 C465.32 540.55 466.98 538.18 469.1 535.9 C471.22 533.62 475.43 530.82 476.7 529.8" fill="none" stroke="#141414" stroke-width="1.0" />
<path d="M493.2 507.59 L494.31 508.04 L495.38 508.58 L496.4 509.21 L497.36 509.93 L498.25 510.73 L499.07 511.61 L499.81 512.55 L500.46 513.55 L501.03 514.61 L501.5 515.71 L501.88 516.85 L502.16 518.01 L502.33 519.2 L502.4 520.4 L502.36 521.59 L502.23 522.78 L501.99 523.96 L501.64 525.11 L501.2 526.22 L500.67 527.29 L500.04 528.31 L499.33 529.28 L498.54 530.18 L497.67 531 L496.73 531.75 L495.74 532.41 L494.68 532.99 L493.59 533.47 L492.45 533.85 L491.29 534.14 L490.1 534.32 L488.91 534.4 L487.71 534.37 L486.52 534.24 L485.34 534.01 L484.19 533.68 L483.07 533.25 L482 532.72 L480.97 532.1 L480 531.39" fill="none" stroke="#141414" stroke-width="1.0" />
<path d="M468.4 518.8 L471.8 519.6 L469.6 522.2 L473.4 522.6 L471.6 525.4 L475.4 525.8 L473.8 528.4 L477.4 528.8 L476.7 530.2 L479.6 531.9" fill="none" stroke="#111" stroke-width="0.85" />
<line x1="478" y1="512" x2="492" y2="527" stroke="#b5baba" stroke-width="0.5" stroke-dasharray="3 2"/>
<line x1="542" y1="355" x2="542" y2="381.8" stroke="#111" stroke-width="1.5" />
<line x1="551" y1="368.5" x2="567" y2="368.5" stroke="#9aa0a0" stroke-width="0.6" />
<line x1="542.5" y1="368.5" x2="551" y2="368.5" stroke="#111" stroke-width="1.0" />
<polygon points="546.8,368.5 551.4,369.8 551.4,367.2" fill="#111"/>
<text x="555.13" y="360.7" font-size="17.3" textLength="13.63" lengthAdjust="spacingAndGlyphs" fill="#000" stroke="#fff" stroke-width="0.16" >A</text>
<line x1="541.6" y1="513" x2="541.6" y2="539.9" stroke="#111" stroke-width="1.5" />
<line x1="542.5" y1="526.4" x2="547" y2="526.4" stroke="#111" stroke-width="1.0" />
<polygon points="545.4,526.4 550.2,527.7 550.2,525.1" fill="#111"/>
<text x="554.24" y="520.7" font-size="17.3" textLength="13.63" lengthAdjust="spacingAndGlyphs" fill="#000" stroke="#fff" stroke-width="0.16" >A</text>
<path d="M826.2 422.5 C825.65 424.75 822.9 431.58 822.9 436 C822.9 440.42 826.2 444.65 826.2 449 C826.2 453.35 822.9 457.68 822.9 462.1 C822.9 466.52 825.65 473.27 826.2 475.5" fill="none" stroke="#141414" stroke-width="1.0" />
<line x1="828.5" y1="422.5" x2="828.5" y2="475.5" stroke="#141414" stroke-width="1.0" />
<line x1="856.5" y1="422.5" x2="856.5" y2="475.5" stroke="#141414" stroke-width="1.0" />
<path d="M859.7 422.5 C860.18 424.75 862.55 431.58 862.6 436 C862.65 440.42 860 444.65 860 449 C860 453.35 862.65 457.68 862.6 462.1 C862.55 466.52 860.18 473.27 859.7 475.5" fill="none" stroke="#141414" stroke-width="1.0" />
<line x1="828.3" y1="431.5" x2="858" y2="431.5" stroke="#141414" stroke-width="1.0" />
<line x1="828.3" y1="439.7" x2="862" y2="439.7" stroke="#111" stroke-width="1.6" />
<line x1="828.3" y1="458.5" x2="858" y2="458.5" stroke="#141414" stroke-width="1.0" />
<line x1="828.3" y1="466.7" x2="862" y2="466.7" stroke="#111" stroke-width="1.6" />
<line x1="861" y1="432" x2="861" y2="439" stroke="#111" stroke-width="1.8" />
<line x1="861" y1="459" x2="861" y2="466" stroke="#111" stroke-width="1.8" />
<path d="M826.2 449.5 L862.5 449.5 L996 446 L1026 446 L1107 446.3" fill="none" stroke="#141414" stroke-width="1.0" />
<path d="M900 450 L996 454.3 L1026.4 454.2" fill="none" stroke="#141414" stroke-width="1.0" />
<path d="M1026.25 433 L1026.25 427.5 L1036.75 427.5 L1036.75 433" fill="none" stroke="#141414" stroke-width="1.0" />
<path d="M1050 433 L1050 427.5 L1060.5 427.5 L1060.5 433" fill="none" stroke="#141414" stroke-width="1.0" />
<path d="M1073.25 433 L1073.25 427.5 L1083.25 427.5 L1083.25 433" fill="none" stroke="#141414" stroke-width="1.0" />
<path d="M1097 433 L1097 427.5 L1107 427.5 L1107 433" fill="none" stroke="#141414" stroke-width="1.0" />
<path d="M1038.2 466.25 L1038.2 472.4 L1048.8 472.4 L1048.8 466.25" fill="none" stroke="#141414" stroke-width="1.0" />
<path d="M1062 466.25 L1062 472.4 L1071.7 472.4 L1071.7 466.25" fill="none" stroke="#141414" stroke-width="1.0" />
<path d="M1085.2 466.25 L1085.2 472.4 L1095.6 472.4 L1095.6 466.25" fill="none" stroke="#141414" stroke-width="1.0" />
<line x1="1026.4" y1="446" x2="1026.4" y2="454.2" stroke="#141414" stroke-width="1.0" />
<line x1="1036.3" y1="446" x2="1036.3" y2="454.2" stroke="#141414" stroke-width="0.9" />
<line x1="1037.9" y1="446" x2="1037.9" y2="454.2" stroke="#141414" stroke-width="0.9" />
<line x1="1048.8" y1="446" x2="1048.8" y2="454.2" stroke="#141414" stroke-width="0.9" />
<line x1="1050.2" y1="446" x2="1050.2" y2="454.2" stroke="#141414" stroke-width="0.9" />
<line x1="1036.3" y1="454.2" x2="1050.2" y2="454.2" stroke="#141414" stroke-width="1.0" />
<line x1="1059.2" y1="446" x2="1059.2" y2="454.2" stroke="#141414" stroke-width="0.9" />
<line x1="1060.8" y1="446" x2="1060.8" y2="454.2" stroke="#141414" stroke-width="0.9" />
<line x1="1072" y1="446" x2="1072" y2="454.2" stroke="#141414" stroke-width="0.9" />
<line x1="1073.4" y1="446" x2="1073.4" y2="454.2" stroke="#141414" stroke-width="0.9" />
<line x1="1059.2" y1="454.2" x2="1073.4" y2="454.2" stroke="#141414" stroke-width="1.0" />
<line x1="1083.1" y1="446" x2="1083.1" y2="454.2" stroke="#141414" stroke-width="0.9" />
<line x1="1084.8" y1="446" x2="1084.8" y2="454.2" stroke="#141414" stroke-width="0.9" />
<line x1="1096.1" y1="446" x2="1096.1" y2="454.2" stroke="#141414" stroke-width="0.9" />
<line x1="1097.5" y1="446" x2="1097.5" y2="454.2" stroke="#141414" stroke-width="0.9" />
<line x1="1083.1" y1="454.2" x2="1097.5" y2="454.2" stroke="#141414" stroke-width="1.0" />
<line x1="1107" y1="433" x2="1107" y2="466.25" stroke="#141414" stroke-width="1.0" />
<text x="1135.2" y="435.2" font-size="16" textLength="11.4" lengthAdjust="spacingAndGlyphs" fill="#000" stroke="#fff" stroke-width="0.16" >B</text>
<line x1="1125.5" y1="446.8" x2="1132.7" y2="446.8" stroke="#111" stroke-width="1.4" />
<line x1="833.5" y1="517.6" x2="833.5" y2="596" stroke="#aeb3b3" stroke-width="0.6" stroke-dasharray="5 2.5"/>
<line x1="840.9" y1="507" x2="840.9" y2="600" stroke="#b5baba" stroke-width="0.5" stroke-dasharray="10 2 2 2"/>
<line x1="776" y1="579.4" x2="833.5" y2="579.4" stroke="#aeb3b3" stroke-width="0.6" stroke-dasharray="5 2.5"/>
<line x1="776" y1="589.5" x2="833.5" y2="589.5" stroke="#aeb3b3" stroke-width="0.6" stroke-dasharray="5 2.5"/>
<line x1="767.4" y1="507" x2="767.4" y2="588" stroke="#aeb3b3" stroke-width="0.6" stroke-dasharray="5 2.5"/>
<line x1="767.4" y1="507.3" x2="781.2" y2="507.3" stroke="#aeb3b3" stroke-width="0.6" stroke-dasharray="5 2.5"/>
<line x1="767.4" y1="588" x2="776" y2="588" stroke="#aeb3b3" stroke-width="0.6" stroke-dasharray="5 2.5"/>
<path d="M780 511 L770 514 L770 520 L781 522" fill="none" stroke="#aeb3b3" stroke-width="0.55" stroke-dasharray="4 2"/>
<path d="M780 524 L770 527 L770 533 L781 535" fill="none" stroke="#aeb3b3" stroke-width="0.55" stroke-dasharray="4 2"/>
<path d="M780 537 L770 540 L770 546 L781 548" fill="none" stroke="#aeb3b3" stroke-width="0.55" stroke-dasharray="4 2"/>
<path d="M780 550 L770 553 L770 559 L781 561" fill="none" stroke="#aeb3b3" stroke-width="0.55" stroke-dasharray="4 2"/>
<path d="M780 563 L770 566 L770 572 L781 574" fill="none" stroke="#aeb3b3" stroke-width="0.55" stroke-dasharray="4 2"/>
<path d="M776 579.4 C775.17 578.83 772 577.4 771 576 C770 574.6 770.17 571.83 770 571" fill="none" stroke="#aeb3b3" stroke-width="0.55" />
<path d="M311 762.5 C320.83 762.45 349.67 762.37 370 762.2 C390.33 762.03 411.33 761.77 433 761.5 C454.67 761.23 480.08 760.85 500 760.6 C519.92 760.35 532.5 759.85 552.5 760 C572.5 760.15 597.75 760.83 620 761.5 C642.25 762.17 666 763.53 686 764 C706 764.47 724.58 764.26 740 764.3 C755.42 764.34 772.08 764.26 778.5 764.25 L818.5 754.5 L823 760" fill="none" stroke="#141414" stroke-width="1.0" />
<path d="M311 780.5 C320.83 780.72 350.17 781.34 370 781.8 C389.83 782.26 408.33 782.67 430 783.25 C451.67 783.83 479.58 784.8 500 785.3 C520.42 785.8 532.5 786.25 552.5 786.25 C572.5 786.25 597.75 785.69 620 785.3 C642.25 784.91 666 784.25 686 783.9 C706 783.55 726.25 783.35 740 783.2 C753.75 783.05 760.83 782.7 768.5 783 C776.17 783.3 783.08 784.67 786 785 L819.75 793.25 L824.25 788.25" fill="none" stroke="#141414" stroke-width="1.0" />
<path d="M311 762.5 C304.5 762.5 304.5 780.5 311 780.5" fill="none" stroke="#141414" stroke-width="1.0" />
<path d="M430 761.6 C434.4 766 434.4 779 430 783.25" fill="none" stroke="#141414" stroke-width="1.0" />
<path d="M441.5 783.8 C442 786.3 445.5 786.3 446 784.1" fill="none" stroke="#141414" stroke-width="0.8" />
<path d="M827.13 785.64 L826.73 785.18 L826.35 784.71 L825.98 784.22 L825.63 783.72 L825.3 783.2 L824.99 782.68 L824.69 782.14 L824.42 781.59 L824.16 781.04 L823.93 780.47 L823.72 779.9 L823.52 779.32 L823.35 778.73 L823.2 778.14 L823.07 777.54 L822.96 776.94 L822.88 776.33 L822.81 775.72 L822.77 775.11 L822.75 774.5 L822.75 773.89 L822.78 773.28 L822.82 772.67 L822.89 772.06 L822.98 771.46 L823.09 770.85 L823.23 770.26 L823.38 769.67 L823.56 769.08 L823.75 768.5 L823.97 767.93 L824.21 767.36 L824.46 766.81 L824.74 766.26 L825.04 765.73 L825.36 765.21 L825.69 764.69 L826.04 764.19 L826.41 763.71 L826.8 763.23" fill="none" stroke="#141414" stroke-width="1.0" />
<path d="M852.47 762.97 L852.89 763.46 L853.28 763.96 L853.66 764.48 L854.02 765.01 L854.36 765.56 L854.68 766.12 L854.97 766.69 L855.25 767.27 L855.5 767.86 L855.73 768.46 L855.94 769.06 L856.12 769.68 L856.28 770.3 L856.42 770.93 L856.54 771.56 L856.63 772.2 L856.69 772.83 L856.73 773.48 L856.75 774.12 L856.74 774.76 L856.71 775.4 L856.66 776.04 L856.58 776.68 L856.47 777.31 L856.34 777.94 L856.19 778.56 L856.02 779.18 L855.82 779.79 L855.6 780.4 L855.36 780.99 L855.09 781.57 L854.8 782.15 L854.49 782.71 L854.16 783.26 L853.81 783.8 L853.44 784.32 L853.05 784.83 L852.64 785.33 L852.22 785.81 L851.77 786.27" fill="none" stroke="#141414" stroke-width="1.0" />
<path d="M826.8 763.23 L827.28 762.69 L827.79 762.17 L828.32 761.67 L828.87 761.19 L829.44 760.74 L830.02 760.31 L830.63 759.9 L831.25 759.53 L831.89 759.18 L832.54 758.86 L833.2 758.56 L833.88 758.3 L834.57 758.06 L835.27 757.85 L835.97 757.68 L836.68 757.53 L837.4 757.41 L838.12 757.33 L838.85 757.27 L839.58 757.25 L840.3 757.26 L841.03 757.3 L841.75 757.37 L842.47 757.47 L843.19 757.6 L843.9 757.76 L844.6 757.96 L845.29 758.18 L845.97 758.43 L846.64 758.71 L847.3 759.02 L847.95 759.36 L848.58 759.72 L849.19 760.11 L849.79 760.53 L850.36 760.97 L850.92 761.44 L851.46 761.93 L851.98 762.44 L852.47 762.97" fill="none" stroke="#141414" stroke-width="1.0" />
<path d="M851.77 786.27 L851.27 786.75 L850.76 787.2 L850.22 787.64 L849.67 788.05 L849.1 788.44 L848.52 788.81 L847.92 789.16 L847.31 789.47 L846.69 789.77 L846.06 790.04 L845.41 790.28 L844.76 790.5 L844.09 790.69 L843.42 790.85 L842.75 790.98 L842.07 791.09 L841.38 791.17 L840.7 791.22 L840.01 791.25 L839.32 791.24 L838.63 791.21 L837.94 791.15 L837.26 791.07 L836.58 790.95 L835.91 790.81 L835.24 790.64 L834.58 790.44 L833.93 790.22 L833.28 789.97 L832.65 789.7 L832.03 789.4 L831.42 789.07 L830.83 788.72 L830.25 788.35 L829.69 787.95 L829.14 787.53 L828.61 787.09 L828.1 786.63 L827.61 786.15 L827.13 785.64" fill="none" stroke="#141414" stroke-width="1.0" />
<circle cx="839.75" cy="774.5" r="8" fill="none" stroke="#9aa0a0" stroke-width="0.5"/>
<path d="M836 771 C839 768 843 771 841 775 L840 781" fill="none" stroke="#9aa0a0" stroke-width="0.5" />
<path d="M853 762.5 L857.25 757.5 C860.79 758.33 870.79 761.04 878.5 762.5 C886.21 763.96 893.25 765.45 903.5 766.25 C913.75 767.05 920 767.07 940 767.3 C960 767.52 1009.58 767.55 1023.5 767.6" fill="none" stroke="#141414" stroke-width="1.0" />
<path d="M853 787.5 L857.25 792 C860.79 791.04 871.62 787.72 878.5 786.25 C885.38 784.78 888.25 783.81 898.5 783.2 C908.75 782.59 919.17 782.63 940 782.6 C960.83 782.57 1009.58 782.93 1023.5 783 L1105.4 783.1 L1105.4 702.7" fill="none" stroke="#141414" stroke-width="1.0" />
<line x1="551.25" y1="751" x2="551.25" y2="794" stroke="#b5baba" stroke-width="0.5" stroke-dasharray="8 2 2 2"/>
<line x1="320" y1="772" x2="560" y2="772.8" stroke="#d5d8d8" stroke-width="0.4" stroke-dasharray="10 4 2 4"/>
<line x1="900" y1="775" x2="1110" y2="775" stroke="#d8dada" stroke-width="0.4" stroke-dasharray="3 4"/>
<path d="M833 596 C833 613.33 833.5 677.67 833 700 C832.5 722.33 832 720.83 830 730 C828 739.17 822.5 750.83 821 755" fill="none" stroke="#9aa0a0" stroke-width="0.55" stroke-dasharray="5 2.5"/>
<path d="M846.5 665 C846.5 670.83 846 689.17 846.5 700 C847 710.83 847.5 720.83 849.5 730 C851.5 739.17 857 750.83 858.5 755" fill="none" stroke="#9aa0a0" stroke-width="0.55" stroke-dasharray="5 2.5"/>
<line x1="839.9" y1="606" x2="839.9" y2="772" stroke="#9aa0a0" stroke-width="0.5" stroke-dasharray="14 2 2 2"/>
<line x1="1023.5" y1="658.5" x2="1023.5" y2="767.7" stroke="#000" stroke-width="1" shape-rendering="crispEdges"/>
<line x1="1105.5" y1="658.5" x2="1105.5" y2="702.7" stroke="#000" stroke-width="1" shape-rendering="crispEdges"/>
<line x1="1024" y1="663.5" x2="1105" y2="663.5" stroke="#000" stroke-width="1" shape-rendering="crispEdges"/>
<polygon points="1024.1,663.5 1037.6,665.8 1037.6,661.2" fill="#111"/>
<polygon points="1105,663.5 1091.5,661.2 1091.5,665.8" fill="#111"/>
<text x="1045.04" y="658.8" font-size="19.3" textLength="18.23" lengthAdjust="spacingAndGlyphs" fill="#000" stroke="#fff" stroke-width="0.16" >21</text>
<text x="1070.91" y="658.8" font-size="13.8" textLength="13.08" lengthAdjust="spacingAndGlyphs" fill="#000" stroke="#fff" stroke-width="0.16" >±1</text>
<text x="1061.26" y="642.24" font-size="29.5" fill="#000" stroke="#fff" stroke-width="0.35">*</text>
<path d="M1024.16 767.7 L1024.16 709.2 L1025.86 702.7 L1032.29 702.7 L1033.79 709.2 L1034.89 727.7 L1035.49 767.7 Z" fill="none" stroke="#141414" stroke-width="1.0" />
<path d="M1048.2 767.7 L1048.2 709.2 L1049.9 702.7 L1056.33 702.7 L1057.83 709.2 L1058.93 727.7 L1059.53 767.7 Z" fill="none" stroke="#141414" stroke-width="1.0" />
<path d="M1071.37 767.7 L1071.37 709.2 L1073.07 702.7 L1079.93 702.7 L1081.43 709.2 L1082.53 727.7 L1083.13 767.7 Z" fill="none" stroke="#141414" stroke-width="1.0" />
<path d="M1093.31 767.7 L1095.41 767.7 L1095.41 709.7 L1097.01 702.7 L1104.88 702.7" fill="none" stroke="#141414" stroke-width="1.0" />
<path d="M1036.18 767.7 L1036.18 710.7 L1037.58 702.7 L1044.94 702.7 L1045.94 710.7 L1046.74 726.7 L1046.04 767.7" fill="none" stroke="#141414" stroke-width="1.0" />
<path d="M1037.98 703 L1041.46 706.9 L1044.54 703" fill="none" stroke="#141414" stroke-width="0.8" />
<line x1="1045.54" y1="716.7" x2="1045.14" y2="767.7" stroke="#141414" stroke-width="0.7" />
<path d="M1060.04 767.7 L1060.04 710.7 L1061.44 702.7 L1068.29 702.7 L1069.29 710.7 L1070.09 726.7 L1069.39 767.7" fill="none" stroke="#141414" stroke-width="1.0" />
<path d="M1061.84 703 L1065.06 706.9 L1067.89 703" fill="none" stroke="#141414" stroke-width="0.8" />
<line x1="1068.89" y1="716.7" x2="1068.49" y2="767.7" stroke="#141414" stroke-width="0.7" />
<path d="M1083.82 767.7 L1083.82 710.7 L1085.22 702.7 L1092.15 702.7 L1093.15 710.7 L1093.95 726.7 L1093.25 767.7" fill="none" stroke="#141414" stroke-width="1.0" />
<path d="M1085.62 703 L1088.88 706.9 L1091.75 703" fill="none" stroke="#141414" stroke-width="0.8" />
<line x1="1092.75" y1="716.7" x2="1092.35" y2="767.7" stroke="#141414" stroke-width="0.7" />
<line x1="1180.2" y1="288.5" x2="1231.3" y2="288.5" stroke="#000" stroke-width="1" shape-rendering="crispEdges"/>
<line x1="1180.2" y1="367.5" x2="1221" y2="367.5" stroke="#000" stroke-width="1" shape-rendering="crispEdges"/>
<line x1="1184.5" y1="289" x2="1184.5" y2="367" stroke="#8a9090" stroke-width="1" shape-rendering="crispEdges"/>
<polygon points="1184.5,288.9 1182.2,302.4 1186.8,302.4" fill="#111"/>
<polygon points="1184.5,367.1 1186.8,353.6 1182.2,353.6" fill="#111"/>
<g transform="translate(1179.2,345) rotate(-90)">
<text x="-0.97" y="0" font-size="19.3" textLength="18.63" lengthAdjust="spacingAndGlyphs" fill="#000" stroke="#fff" stroke-width="0.16" >21</text>
<text x="24.87" y="0" font-size="12.6" textLength="14.96" lengthAdjust="spacingAndGlyphs" fill="#000" stroke="#fff" stroke-width="0.16" >±2</text>
</g>
<g transform="translate(1153.9,327.2) rotate(-90)">
<text x="-5.74" y="14.84" font-size="29.5" fill="#000" stroke="#fff" stroke-width="0.35">*</text></g>
<line x1="1227.7" y1="252.5" x2="1234.4" y2="252.5" stroke="#111" stroke-width="1.3" />
<text x="1241.92" y="258.4" font-size="15.6" textLength="10.66" lengthAdjust="spacingAndGlyphs" fill="#000" stroke="#fff" stroke-width="0.16" >B</text>
<path d="M1231.53 363.84 L1231.63 363.39 L1231.81 362.9 L1232.03 362.33 L1232.29 361.69 L1232.58 361 L1232.91 360.26 L1233.25 359.47 L1233.62 358.65 L1234 357.79 L1234.39 356.91 L1234.79 356 L1235.19 355.09 L1235.59 354.17 L1235.99 353.24 L1236.38 352.32 L1236.77 351.39 L1237.17 350.45 L1237.56 349.49 L1237.97 348.51 L1238.38 347.51 L1238.8 346.5 L1239.24 345.45 L1239.68 344.38 L1240.14 343.28 L1240.62 342.15 L1241.11 340.98 L1241.62 339.78 L1242.16 338.54 L1242.73 337.23 L1243.35 335.81 L1244.02 334.31 L1244.73 332.75 L1245.46 331.14 L1246.2 329.49 L1246.94 327.84 L1247.68 326.19 L1248.41 324.57 L1249.11 322.98 L1249.77 321.45 L1250.39 320 L1250.96 318.63 L1251.46 317.38 L1251.89 316.25 L1252.29 315.21 L1252.66 314.23 L1253.01 313.29 L1253.32 312.41 L1253.61 311.55 L1253.87 310.72 L1254.11 309.91 L1254.33 309.11 L1254.51 308.31 L1254.67 307.51 L1254.79 306.71 L1254.89 305.91 L1254.95 305.1 L1254.99 304.3 L1254.99 303.51 L1254.97 302.73 L1254.91 301.95 L1254.81 301.17 L1254.68 300.4 L1254.5 299.63 L1254.28 298.88 L1254.01 298.13 L1253.69 297.4 L1253.32 296.69 L1252.9 296 L1252.43 295.33 L1251.9 294.68 L1251.3 294.05 L1250.65 293.46 L1249.97 292.92 L1249.27 292.43 L1248.54 291.97 L1247.8 291.55 L1247.05 291.15 L1246.29 290.79 L1245.51 290.45 L1244.74 290.14 L1243.96 289.86 L1243.19 289.61 L1242.42 289.39 L1241.65 289.2 L1240.87 289.03 L1240.08 288.9 L1239.27 288.8 L1238.47 288.73 L1237.66 288.69 L1236.86 288.67 L1236.05 288.69 L1235.25 288.73 L1234.46 288.79 L1233.67 288.88 L1232.89 289 L1232.13 289.15 L1231.38 289.33 L1230.63 289.54 L1229.89 289.79 L1229.17 290.08 L1228.47 290.4 L1227.79 290.75 L1227.13 291.12 L1226.49 291.52 L1225.87 291.94 L1225.28 292.39 L1224.71 292.85 L1224.16 293.33 L1223.64 293.83 L1223.14 294.35 L1222.66 294.89 L1222.22 295.44 L1221.8 296.02 L1221.4 296.62 L1221.04 297.23 L1220.71 297.86 L1220.41 298.51 L1220.14 299.17 L1219.89 299.84 L1219.68 300.52 L1219.5 301.21 L1219.35 301.92 L1219.22 302.63 L1219.13 303.35 L1219.07 304.07 L1219.03 304.75 L1219.02 305.34 L1219 305.88 L1219 306.44 L1219.01 307.05 L1219.06 307.68 L1219.14 308.35 L1219.26 309.05 L1219.42 309.76 L1219.62 310.5 L1219.86 311.28 L1220.14 312.11 L1220.47 313.02 L1220.86 314.03 L1221.31 315.16 L1221.85 316.44 L1222.47 317.86 L1223.15 319.37 L1223.9 320.98 L1224.69 322.66 L1225.53 324.41 L1226.39 326.2 L1227.28 328.03 L1228.18 329.88 L1229.07 331.73 L1229.96 333.56 L1230.82 335.37 L1231.65 337.12 L1232.45 338.82 L1233.25 340.54 L1234.09 342.36 L1234.96 344.26 L1235.86 346.19 L1236.76 348.15 L1237.65 350.09 L1238.52 352.01 L1239.37 353.86 L1240.17 355.64 L1240.91 357.3 L1241.59 358.83 L1242.18 360.2 L1242.68 361.39 L1243.04 362.38 L1243.83 363.58 L1244.9 364.54 L1246.18 365.19 L1247.58 365.48 L1249.02 365.41 L1250.38 364.96 L1251.58 364.17 L1252.54 363.1 L1253.19 361.82 L1253.48 360.42 L1253.41 358.98 L1252.96 357.62 L1252.41 356.72 L1251.8 355.59 L1251.1 354.27 L1250.33 352.78 L1249.5 351.16 L1248.62 349.43 L1247.7 347.6 L1246.76 345.72 L1245.79 343.81 L1244.83 341.88 L1243.87 339.97 L1242.93 338.1 L1242.02 336.3 L1241.15 334.58 L1240.29 332.88 L1239.38 331.12 L1238.45 329.32 L1237.51 327.5 L1236.56 325.67 L1235.61 323.85 L1234.68 322.06 L1233.78 320.31 L1232.91 318.61 L1232.09 317 L1231.32 315.47 L1230.63 314.06 L1230.02 312.78 L1229.49 311.64 L1229.04 310.63 L1228.66 309.75 L1228.34 309 L1228.09 308.37 L1227.89 307.86 L1227.74 307.44 L1227.64 307.12 L1227.56 306.85 L1227.51 306.62 L1227.47 306.38 L1227.43 306.1 L1227.4 305.75 L1227.38 305.32 L1227.37 304.85 L1227.36 304.42 L1227.36 304.04 L1227.39 303.67 L1227.43 303.31 L1227.48 302.95 L1227.55 302.6 L1227.63 302.26 L1227.73 301.93 L1227.84 301.61 L1227.96 301.3 L1228.1 300.99 L1228.25 300.7 L1228.41 300.43 L1228.58 300.16 L1228.78 299.89 L1229.01 299.61 L1229.26 299.32 L1229.53 299.04 L1229.83 298.76 L1230.14 298.48 L1230.48 298.22 L1230.82 297.97 L1231.17 297.73 L1231.53 297.52 L1231.89 297.32 L1232.25 297.14 L1232.61 296.99 L1232.97 296.86 L1233.35 296.74 L1233.78 296.63 L1234.25 296.53 L1234.74 296.45 L1235.25 296.38 L1235.78 296.33 L1236.32 296.3 L1236.87 296.29 L1237.41 296.29 L1237.95 296.32 L1238.48 296.36 L1238.99 296.43 L1239.48 296.51 L1239.95 296.6 L1240.43 296.73 L1240.95 296.88 L1241.48 297.05 L1242.03 297.25 L1242.57 297.47 L1243.11 297.71 L1243.62 297.96 L1244.12 298.22 L1244.58 298.49 L1245 298.77 L1245.36 299.03 L1245.67 299.28 L1245.91 299.51 L1246.1 299.72 L1246.26 299.93 L1246.42 300.17 L1246.55 300.41 L1246.67 300.66 L1246.78 300.93 L1246.87 301.22 L1246.95 301.53 L1247.01 301.86 L1247.06 302.23 L1247.1 302.62 L1247.11 303.04 L1247.11 303.5 L1247.09 303.99 L1247.05 304.5 L1246.99 305.01 L1246.91 305.5 L1246.81 306 L1246.69 306.5 L1246.54 307.04 L1246.37 307.6 L1246.16 308.22 L1245.92 308.88 L1245.65 309.6 L1245.34 310.38 L1245 311.23 L1244.61 312.15 L1244.19 313.15 L1243.74 314.22 L1243.25 315.38 L1242.68 316.65 L1242.06 318.03 L1241.38 319.49 L1240.66 321.03 L1239.91 322.61 L1239.14 324.22 L1238.37 325.85 L1237.59 327.47 L1236.82 329.06 L1236.07 330.62 L1235.35 332.12 L1234.67 333.54 L1234.04 334.86 L1233.46 336.11 L1232.89 337.31 L1232.35 338.47 L1231.82 339.59 L1231.31 340.67 L1230.82 341.72 L1230.33 342.74 L1229.87 343.73 L1229.41 344.69 L1228.96 345.63 L1228.51 346.54 L1228.08 347.43 L1227.64 348.3 L1227.21 349.16 L1226.78 350 L1226.34 350.86 L1225.89 351.7 L1225.44 352.54 L1225 353.37 L1224.56 354.17 L1224.13 354.94 L1223.72 355.68 L1223.33 356.37 L1222.95 357.01 L1222.6 357.6 L1222.27 358.13 L1221.97 358.6 L1221.67 358.96 L1221.21 360.32 L1221.11 361.76 L1221.39 363.17 L1222.03 364.45 L1222.97 365.53 L1224.16 366.33 L1225.52 366.79 L1226.96 366.89 L1228.37 366.61 L1229.65 365.97 L1230.73 365.03 Z" fill="#fff" stroke="#141414" stroke-width="1" stroke-linejoin="round"/>
<path d="M1228.47 290.4 L1227.79 290.75 L1227.13 291.12 L1226.49 291.52 L1225.87 291.94 L1225.28 292.39 L1224.71 292.85 L1224.16 293.33 L1223.64 293.83 L1223.14 294.35 L1222.66 294.89 L1222.22 295.44 L1221.8 296.02 L1221.4 296.62 L1221.04 297.23 L1220.71 297.86 L1220.41 298.51 L1220.14 299.17 L1219.89 299.84 L1219.68 300.52 L1219.5 301.21 L1219.35 301.92 L1219.22 302.63 L1219.13 303.35 L1219.07 304.07 L1219.03 304.75 L1219.02 305.34 L1219 305.88 L1219 306.44 L1219.01 307.05 L1219.06 307.68 L1219.14 308.35 L1219.26 309.05 L1219.42 309.76 L1219.62 310.5 L1219.86 311.28 L1220.14 312.11 L1220.47 313.02 L1220.86 314.03 L1221.31 315.16 L1221.85 316.44 L1222.47 317.86 L1223.15 319.37 L1223.9 320.98 L1224.69 322.66 L1225.53 324.41 L1226.39 326.2 L1227.28 328.03 L1228.18 329.88 L1229.07 331.73 L1229.96 333.56 L1230.82 335.37 L1231.65 337.12 L1232.45 338.82 L1233.25 340.54 L1234.09 342.36 L1234.96 344.26 L1235.86 346.19 L1236.76 348.15 L1237.65 350.09 L1238.52 352.01 L1239.37 353.86 L1240.17 355.64 L1240.91 357.3 L1241.59 358.83 L1242.18 360.2 L1242.68 361.39 L1243.04 362.38 L1243.83 363.58 L1244.9 364.54 L1246.18 365.19 L1247.58 365.48 L1249.02 365.41 L1250.38 364.96 L1251.58 364.17 L1252.54 363.1 L1253.19 361.82 L1253.48 360.42 L1253.41 358.98 L1252.96 357.62 L1252.41 356.72 L1251.8 355.59 L1251.1 354.27 L1250.33 352.78 L1249.5 351.16 L1248.62 349.43 L1247.7 347.6 L1246.76 345.72 L1245.79 343.81 L1244.83 341.88 L1243.87 339.97 L1242.93 338.1 L1242.02 336.3 L1241.15 334.58 L1240.29 332.88 L1239.38 331.12 L1238.45 329.32 L1237.51 327.5 L1236.56 325.67 L1235.61 323.85 L1234.68 322.06 L1233.78 320.31 L1232.91 318.61 L1232.09 317 L1231.32 315.47 L1230.63 314.06 L1230.02 312.78 L1229.49 311.64 L1229.04 310.63 L1228.66 309.75 L1228.34 309 L1228.09 308.37 L1227.89 307.86 L1227.74 307.44 L1227.64 307.12 L1227.56 306.85 L1227.51 306.62 L1227.47 306.38 L1227.43 306.1 L1227.4 305.75 L1227.38 305.32 L1227.37 304.85 L1227.36 304.42 L1227.36 304.04 L1227.39 303.67 L1227.43 303.31 L1227.48 302.95 L1227.55 302.6 L1227.63 302.26 L1227.73 301.93 L1227.84 301.61 L1227.96 301.3 L1228.1 300.99 L1228.25 300.7 L1228.41 300.43 L1228.58 300.16 L1228.78 299.89 L1229.01 299.61 L1229.26 299.32 L1229.53 299.04 L1229.83 298.76 L1230.14 298.48 L1230.48 298.22 L1230.82 297.97 L1231.17 297.73 L1231.53 297.52 L1231.89 297.32" fill="#fff" stroke="#141414" stroke-width="1" stroke-linejoin="round"/>
<path d="M1245 289.9 C1246.8 291.2 1246.8 294.4 1244.8 295.4 L1239.5 296.9" fill="none" stroke="#141414" stroke-width="0.9" />
<path d="M1240.8 292.9 C1239.3 292.95 1234.37 292.38 1231.8 293.2 C1229.23 294.02 1226.83 295.87 1225.4 297.8 C1223.97 299.73 1223.2 302.2 1223.2 304.8 C1223.2 307.4 1223.13 308.08 1225.4 313.4 C1227.67 318.72 1233.03 328.93 1236.8 336.7 C1240.57 344.47 1246.13 356.12 1248 360" fill="none" stroke="#b5baba" stroke-width="0.5" stroke-dasharray="1.5 2"/>
<path d="M1228.1 538.3 C1227.38 537.92 1224.88 537.27 1223.8 536 C1222.72 534.73 1221.87 534.85 1221.6 530.7 C1221.33 526.55 1221.88 519.82 1222.2 511.1 C1222.52 502.38 1222.95 485.37 1223.5 478.4 C1224.05 471.43 1224.3 472.02 1225.5 469.3 C1226.7 466.58 1228.52 463.8 1230.7 462.1 C1232.88 460.4 1236.2 459.53 1238.6 459.1 C1241 458.67 1242.27 458.57 1245.1 459.5 C1247.93 460.43 1253.75 463.48 1255.6 464.7 C1257.45 465.92 1256.2 466.15 1256.2 466.8 C1256.2 467.45 1256.37 468.08 1255.6 468.6 C1254.83 469.12 1253.57 470.18 1251.6 469.9 C1249.63 469.62 1246.18 467.33 1243.8 466.9 C1241.42 466.47 1239.15 466.47 1237.3 467.3 C1235.45 468.13 1233.53 469.62 1232.7 471.9 C1231.87 474.18 1232.08 474.47 1232.3 481 C1232.52 487.53 1233.62 502.82 1234 511.1 C1234.38 519.38 1234.82 526.45 1234.6 530.7 C1234.38 534.95 1233.78 535.33 1232.7 536.6 C1231.62 537.87 1228.87 538.02 1228.1 538.3" fill="none" stroke="#141414" stroke-width="0.9" />
<text x="1204.46" y="625.7" font-size="16.8" textLength="41.28" lengthAdjust="spacingAndGlyphs" fill="#000" stroke="#fff" stroke-width="0.16" >A - A</text>
<clipPath id="stad"><path d="M1197.25 662.5 L1254.05 662.5 A12.95 12.95 0 0 1 1254.05 688.4 L1197.25 688.4 A12.95 12.95 0 0 1 1197.25 662.5 Z"/></clipPath>
<g clip-path="url(#stad)">
<line x1="1157.9" y1="688.4" x2="1183.9" y2="662.5" stroke="#aab0b0" stroke-width="0.5" stroke-dasharray="2.5 1.5"/>
<line x1="1161.2" y1="688.4" x2="1187.2" y2="662.5" stroke="#aab0b0" stroke-width="0.5" stroke-dasharray="2.5 1.5"/>
<line x1="1164.5" y1="688.4" x2="1190.5" y2="662.5" stroke="#aab0b0" stroke-width="0.5" stroke-dasharray="2.5 1.5"/>
<line x1="1167.8" y1="688.4" x2="1193.8" y2="662.5" stroke="#aab0b0" stroke-width="0.5" stroke-dasharray="2.5 1.5"/>
<line x1="1171.1" y1="688.4" x2="1197.1" y2="662.5" stroke="#aab0b0" stroke-width="0.5" stroke-dasharray="2.5 1.5"/>
<line x1="1174.4" y1="688.4" x2="1200.4" y2="662.5" stroke="#aab0b0" stroke-width="0.5" stroke-dasharray="2.5 1.5"/>
<line x1="1177.7" y1="688.4" x2="1203.7" y2="662.5" stroke="#aab0b0" stroke-width="0.5" stroke-dasharray="2.5 1.5"/>
<line x1="1181" y1="688.4" x2="1207" y2="662.5" stroke="#aab0b0" stroke-width="0.5" stroke-dasharray="2.5 1.5"/>
<line x1="1184.3" y1="688.4" x2="1210.3" y2="662.5" stroke="#aab0b0" stroke-width="0.5" stroke-dasharray="2.5 1.5"/>
<line x1="1187.6" y1="688.4" x2="1213.6" y2="662.5" stroke="#aab0b0" stroke-width="0.5" stroke-dasharray="2.5 1.5"/>
<line x1="1190.9" y1="688.4" x2="1216.9" y2="662.5" stroke="#aab0b0" stroke-width="0.5" stroke-dasharray="2.5 1.5"/>
<line x1="1194.2" y1="688.4" x2="1220.2" y2="662.5" stroke="#aab0b0" stroke-width="0.5" stroke-dasharray="2.5 1.5"/>
<line x1="1197.5" y1="688.4" x2="1223.5" y2="662.5" stroke="#aab0b0" stroke-width="0.5" stroke-dasharray="2.5 1.5"/>
<line x1="1200.8" y1="688.4" x2="1226.8" y2="662.5" stroke="#aab0b0" stroke-width="0.5" stroke-dasharray="2.5 1.5"/>
<line x1="1204.1" y1="688.4" x2="1230.1" y2="662.5" stroke="#aab0b0" stroke-width="0.5" stroke-dasharray="2.5 1.5"/>
<line x1="1207.4" y1="688.4" x2="1233.4" y2="662.5" stroke="#aab0b0" stroke-width="0.5" stroke-dasharray="2.5 1.5"/>
<line x1="1210.7" y1="688.4" x2="1236.7" y2="662.5" stroke="#aab0b0" stroke-width="0.5" stroke-dasharray="2.5 1.5"/>
<line x1="1214" y1="688.4" x2="1240" y2="662.5" stroke="#aab0b0" stroke-width="0.5" stroke-dasharray="2.5 1.5"/>
<line x1="1217.3" y1="688.4" x2="1243.3" y2="662.5" stroke="#aab0b0" stroke-width="0.5" stroke-dasharray="2.5 1.5"/>
<line x1="1220.6" y1="688.4" x2="1246.6" y2="662.5" stroke="#aab0b0" stroke-width="0.5" stroke-dasharray="2.5 1.5"/>
<line x1="1223.9" y1="688.4" x2="1249.9" y2="662.5" stroke="#aab0b0" stroke-width="0.5" stroke-dasharray="2.5 1.5"/>
<line x1="1227.2" y1="688.4" x2="1253.2" y2="662.5" stroke="#aab0b0" stroke-width="0.5" stroke-dasharray="2.5 1.5"/>
<line x1="1230.5" y1="688.4" x2="1256.5" y2="662.5" stroke="#aab0b0" stroke-width="0.5" stroke-dasharray="2.5 1.5"/>
<line x1="1233.8" y1="688.4" x2="1259.8" y2="662.5" stroke="#aab0b0" stroke-width="0.5" stroke-dasharray="2.5 1.5"/>
<line x1="1237.1" y1="688.4" x2="1263.1" y2="662.5" stroke="#aab0b0" stroke-width="0.5" stroke-dasharray="2.5 1.5"/>
<line x1="1240.4" y1="688.4" x2="1266.4" y2="662.5" stroke="#aab0b0" stroke-width="0.5" stroke-dasharray="2.5 1.5"/>
<line x1="1243.7" y1="688.4" x2="1269.7" y2="662.5" stroke="#aab0b0" stroke-width="0.5" stroke-dasharray="2.5 1.5"/>
<line x1="1247" y1="688.4" x2="1273" y2="662.5" stroke="#aab0b0" stroke-width="0.5" stroke-dasharray="2.5 1.5"/>
<line x1="1250.3" y1="688.4" x2="1276.3" y2="662.5" stroke="#aab0b0" stroke-width="0.5" stroke-dasharray="2.5 1.5"/>
<line x1="1253.6" y1="688.4" x2="1279.6" y2="662.5" stroke="#aab0b0" stroke-width="0.5" stroke-dasharray="2.5 1.5"/>
<line x1="1256.9" y1="688.4" x2="1282.9" y2="662.5" stroke="#aab0b0" stroke-width="0.5" stroke-dasharray="2.5 1.5"/>
<line x1="1260.2" y1="688.4" x2="1286.2" y2="662.5" stroke="#aab0b0" stroke-width="0.5" stroke-dasharray="2.5 1.5"/>
<line x1="1263.5" y1="688.4" x2="1289.5" y2="662.5" stroke="#aab0b0" stroke-width="0.5" stroke-dasharray="2.5 1.5"/>
<line x1="1266.8" y1="688.4" x2="1292.8" y2="662.5" stroke="#aab0b0" stroke-width="0.5" stroke-dasharray="2.5 1.5"/>
<line x1="1270.1" y1="688.4" x2="1296.1" y2="662.5" stroke="#aab0b0" stroke-width="0.5" stroke-dasharray="2.5 1.5"/>
<line x1="1273.4" y1="688.4" x2="1299.4" y2="662.5" stroke="#aab0b0" stroke-width="0.5" stroke-dasharray="2.5 1.5"/>
<line x1="1276.7" y1="688.4" x2="1302.7" y2="662.5" stroke="#aab0b0" stroke-width="0.5" stroke-dasharray="2.5 1.5"/>
<line x1="1280" y1="688.4" x2="1306" y2="662.5" stroke="#aab0b0" stroke-width="0.5" stroke-dasharray="2.5 1.5"/>
</g>
<rect x="1208.2" y="662.5" width="27.2" height="8.6" fill="#fff"/>
<rect x="1219.4" y="669" width="12.3" height="19.4" fill="#fff"/>
<rect x="1231.7" y="671.5" width="11" height="7.7" fill="#fff"/>
<path d="M1197.25 662.5 L1254.05 662.5 A12.95 12.95 0 0 1 1254.05 688.4 L1197.25 688.4 A12.95 12.95 0 0 1 1197.25 662.5 Z" fill="none" stroke="#141414" stroke-width="0.9" />
<path d="M1208.2 662.5 L1208.2 671.1 L1219 671.1" fill="none" stroke="#111" stroke-width="1" />
<path d="M1216.2 662.5 L1216.2 667.8 L1219 669.4 L1232.9 669.4 L1235.4 667.8 L1235.4 662.5" fill="none" stroke="#111" stroke-width="1" />
<path d="M1224.3 663 L1224.3 665.6 C1224.3 667 1227.2 667 1227.2 665.6 L1227.2 663" fill="none" stroke="#111" stroke-width="0.7" />
<line x1="1219.4" y1="669.4" x2="1219.4" y2="688.4" stroke="#111" stroke-width="0.9" />
<line x1="1231.7" y1="669.4" x2="1231.7" y2="688.4" stroke="#111" stroke-width="0.9" />
<line x1="1219.4" y1="672.2" x2="1231.7" y2="672.2" stroke="#111" stroke-width="1.6" />
<path d="M1231.7 671.5 L1242.7 671.5 L1242.7 679.2 L1231.7 679.2" fill="none" stroke="#111" stroke-width="1" />
<path d="M1208.2 688.4 L1208.2 679.2 L1219.4 679.2" fill="none" stroke="#111" stroke-width="1" />
<line x1="1209.2" y1="687.8" x2="1219" y2="680.5" stroke="#444" stroke-width="0.6" />
</svg></body></html>
